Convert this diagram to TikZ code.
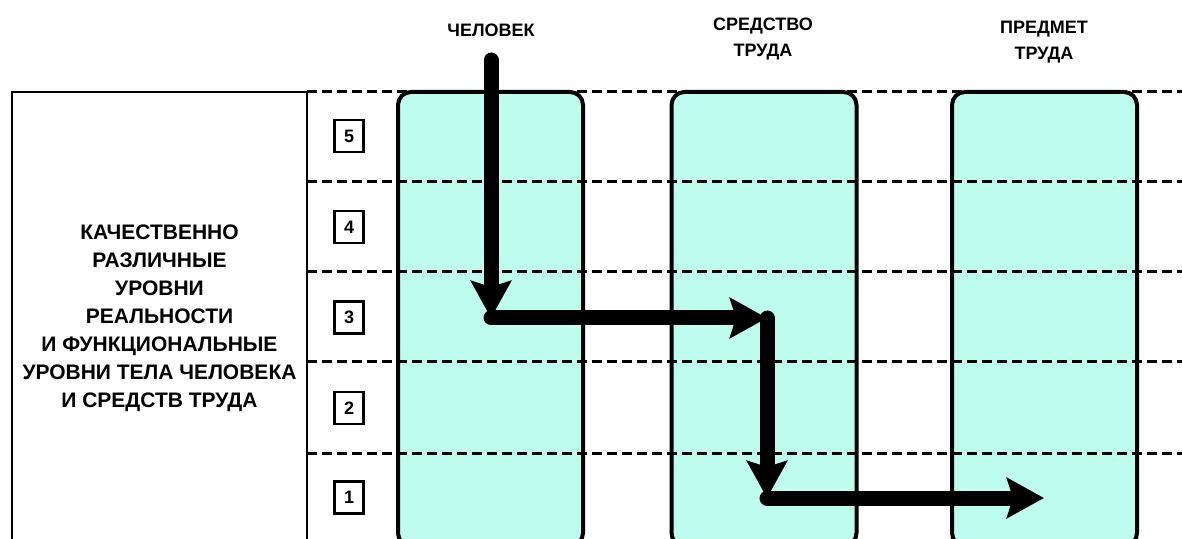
\documentclass[tikz,border=0pt]{standalone}
\usepackage{fontspec}
\setmainfont{Liberation Sans}
\usetikzlibrary{arrows.meta}
\definecolor{colfill}{HTML}{BEFDEE}

\tikzset{
  column/.style={draw,line width=2pt,rounded corners=6.5pt,fill=colfill,
    minimum width=92.5pt,minimum height=227pt,inner sep=0pt},
  level/.style={line width=1.5pt,dash pattern=on 5pt off 2.5pt},
  numbox/.style={draw,line width=1.3pt,minimum width=14.5pt,minimum height=16pt,
    inner sep=0pt,font=\bfseries\fontsize{9}{10}\selectfont},
  head/.style={align=center,font=\bfseries\fontsize{9}{13}\selectfont},
  flow/.style={line width=7.5pt,line cap=round,
    -{Stealth[length=18.5pt,width=20pt,inset=3pt]}}
}

\begin{document}
\begin{tikzpicture}[x=0.5pt,y=-0.5pt]
    \clip (0,0) rectangle (1182,539);
    % left box
    \draw[line width=0.8pt] (12,545) -- (12,92) -- (307,92) -- (307,545);
    \node[align=center,font=\bfseries\fontsize{10.5}{14}\selectfont] (levels) at (159.5,318.5)
      {КАЧЕСТВЕННО\\РАЗЛИЧНЫЕ\\УРОВНИ\\РЕАЛЬНОСТИ\\И ФУНКЦИОНАЛЬНЫЕ\\УРОВНИ ТЕЛА ЧЕЛОВЕКА\\И СРЕДСТВ ТРУДА};
    % columns
    \node[column] (man) at (490.5,319) {};
    \node[column] (tool) at (764,319) {};
    \node[column] (object) at (1044.5,319) {};
    \node[head] (manlabel) at (491,30) {ЧЕЛОВЕК};
    \node[head] (toollabel) at (763,39) {СРЕДСТВО\\ТРУДА};
    \node[head] (objectlabel) at (1044,42) {ПРЕДМЕТ\\ТРУДА};
    % levels
    \draw[level] (307,92) -- (1182,92);
    \draw[level] (307,182) -- (1182,182);
    \draw[level] (307,272) -- (1182,272);
    \draw[level] (307,362) -- (1182,362);
    \draw[level] (307,453) -- (1182,453);
    \node[numbox] (n5) at (349,136) {5};
    \node[numbox] (n4) at (349,227) {4};
    \node[numbox] (n3) at (349,317.5) {3};
    \node[numbox] (n2) at (349,408) {2};
    \node[numbox] (n1) at (349,497.5) {1};
    % path of the action
    \coordinate (start) at (491,60);
    \coordinate (c1) at (491,318);
    \coordinate (c2) at (767,318);
    \coordinate (c3) at (767,498);
    \coordinate (stop) at (1044,498);
    \draw[flow] (start) -- (c1);
    \draw[flow] (c1) -- (c2);
    \draw[flow] (c2) -- (c3);
    \draw[flow] (c3) -- (stop);
  \end{tikzpicture}
\end{document}
